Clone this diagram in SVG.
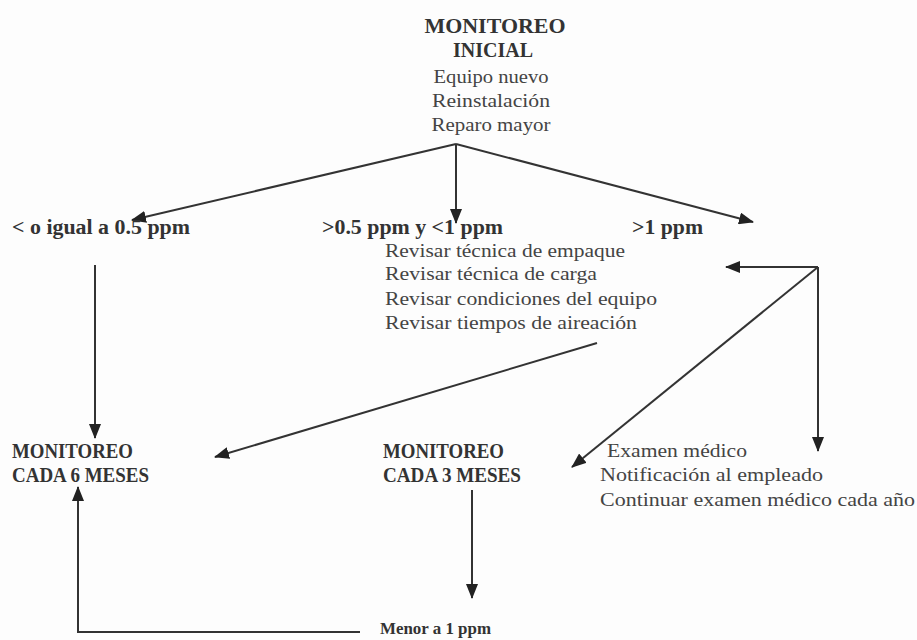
<svg xmlns="http://www.w3.org/2000/svg" width="917" height="640" viewBox="0 0 917 640">
<style>
.b{font-family:"Liberation Serif","Times New Roman",serif;font-weight:bold;font-size:20px;fill:#333}
.r{font-family:"Liberation Serif","Times New Roman",serif;font-size:19px;fill:#444}
.c{stroke:#333;stroke-width:2;fill:none}
</style>
<defs>
<marker id="ah" markerUnits="userSpaceOnUse" markerWidth="16" markerHeight="12" refX="14" refY="6" orient="auto">
<path d="M0,0 L15,6 L0,12 z" fill="#222"/>
</marker>
</defs>
<rect width="917" height="640" fill="#fdfdfd"/>
<g id="connectors">
<line class="c" x1="456" y1="144" x2="132" y2="220" marker-end="url(#ah)"/>
<line class="c" x1="456" y1="144" x2="456" y2="223" marker-end="url(#ah)"/>
<line class="c" x1="456" y1="144" x2="753" y2="222" marker-end="url(#ah)"/>
<line class="c" x1="95" y1="265" x2="95" y2="438" marker-end="url(#ah)"/>
<line class="c" x1="597" y1="343" x2="215" y2="457" marker-end="url(#ah)"/>
<line class="c" x1="818" y1="267" x2="726" y2="267" marker-end="url(#ah)"/>
<line class="c" x1="818" y1="267" x2="818" y2="451" marker-end="url(#ah)"/>
<line class="c" x1="818" y1="267" x2="572" y2="467" marker-end="url(#ah)"/>
<line class="c" x1="472" y1="490" x2="472" y2="598" marker-end="url(#ah)"/>
<polyline class="c" points="360,632 78,632 78,487" marker-end="url(#ah)"/>
</g>
<g id="inicial">
<text class="b" x="495" y="33" text-anchor="middle" textLength="141" lengthAdjust="spacingAndGlyphs">MONITOREO</text>
<text class="b" x="493" y="57" text-anchor="middle">INICIAL</text>
<text class="r" x="491" y="83" text-anchor="middle" textLength="115" lengthAdjust="spacingAndGlyphs">Equipo nuevo</text>
<text class="r" x="491" y="107" text-anchor="middle" textLength="118" lengthAdjust="spacingAndGlyphs">Reinstalación</text>
<text class="r" x="491" y="131" text-anchor="middle" textLength="119" lengthAdjust="spacingAndGlyphs">Reparo mayor</text>
</g>
<g id="menor05">
<text class="b" x="12" y="234" textLength="178" lengthAdjust="spacingAndGlyphs">&lt; o igual a 0.5 ppm</text>
</g>
<g id="entre">
<text class="b" x="322" y="234" textLength="181" lengthAdjust="spacingAndGlyphs">&gt;0.5 ppm y &lt;1 ppm</text>
<text class="r" x="385" y="257" textLength="240" lengthAdjust="spacingAndGlyphs">Revisar técnica de empaque</text>
<text class="r" x="385" y="280" textLength="212" lengthAdjust="spacingAndGlyphs">Revisar técnica de carga</text>
<text class="r" x="385" y="305" textLength="272" lengthAdjust="spacingAndGlyphs">Revisar condiciones del equipo</text>
<text class="r" x="385" y="329" textLength="252" lengthAdjust="spacingAndGlyphs">Revisar tiempos de aireación</text>
</g>
<g id="mayor1">
<text class="b" x="632" y="234" textLength="71" lengthAdjust="spacingAndGlyphs">&gt;1 ppm</text>
</g>
<g id="cada6">
<text class="b" x="12" y="458" textLength="121" lengthAdjust="spacingAndGlyphs">MONITOREO</text>
<text class="b" x="12" y="482" textLength="137" lengthAdjust="spacingAndGlyphs">CADA 6 MESES</text>
</g>
<g id="cada3">
<text class="b" x="383" y="458" textLength="121" lengthAdjust="spacingAndGlyphs">MONITOREO</text>
<text class="b" x="383" y="482" textLength="138" lengthAdjust="spacingAndGlyphs">CADA 3 MESES</text>
</g>
<g id="medico">
<text class="r" x="607" y="457" textLength="140" lengthAdjust="spacingAndGlyphs">Examen médico</text>
<text class="r" x="600" y="481" textLength="223" lengthAdjust="spacingAndGlyphs">Notificación al empleado</text>
<text class="r" x="600" y="506" textLength="315" lengthAdjust="spacingAndGlyphs">Continuar examen médico cada año</text>
</g>
<g id="menor1">
<text class="b" x="380" y="634" style="font-size:17px" textLength="111" lengthAdjust="spacingAndGlyphs">Menor a 1 ppm</text>
</g>
</svg>
